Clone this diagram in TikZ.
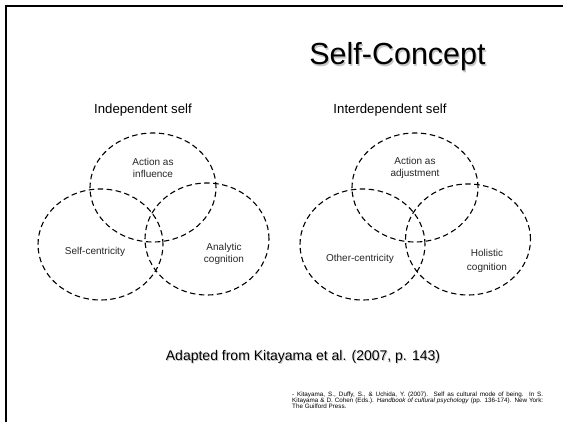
\documentclass[tikz,border=0pt]{standalone}
\usepackage{fontspec}
\setmainfont{Liberation Sans}
\usetikzlibrary{shapes.geometric}
\tikzset{
  venn/.style={ellipse, draw=black, line width=1.1pt, dash pattern=on 5.5pt off 3.5pt, inner sep=0pt, outer sep=0pt},
  lbl/.style={align=center, font=\fontsize{10}{12.5}\selectfont, text=black!85, inner sep=0pt},
  head/.style={font=\fontsize{13.2}{16}\selectfont, inner sep=0pt},
  shadowtxt/.style={text=black!22},
}
\begin{document}
\begin{tikzpicture}[x=1pt,y=-1pt]
\useasboundingbox (0,0) rectangle (563,422);
\fill[white] (0,0) rectangle (563,422);
% frame
\coordinate (fbl) at (6,422);
\coordinate (ftl) at (6,6);
\coordinate (ftr) at (563,6);
\draw[line width=2.6pt, line cap=rect] (fbl) -- (ftl) -- (ftr);
% title
\node[font=\fontsize{30.5}{34}\selectfont, inner sep=0pt, shadowtxt] (titleshadow) at (398.7,58.2) {Self-Concept};
\node[font=\fontsize{30.5}{34}\selectfont, inner sep=0pt] (title) at (397.5,57) {Self-Concept};
% headings
\node[head] (hind) at (143,110) {Independent self};
\node[head] (hint) at (390,110) {Interdependent self};
% left venn
\node[venn, minimum width=126pt, minimum height=109pt] (lt) at (153,187.5) {};
\node[venn, minimum width=125pt, minimum height=111pt] (ll) at (100.5,244.5) {};
\node[venn, minimum width=124pt, minimum height=112pt] (lr) at (207,239) {};
\node[lbl] (ltl) at (153,168) {Action as\\influence};
\node[lbl] (lll) at (95,252) {Self-centricity};
\node[lbl] (lrl) at (224,254) {Analytic\\cognition};
% right venn
\node[venn, minimum width=126pt, minimum height=109pt] (rt) at (415,187.5) {};
\node[venn, minimum width=125pt, minimum height=111pt] (rl) at (362.5,244.5) {};
\node[venn, minimum width=125pt, minimum height=111pt] (rr) at (468,239.5) {};
\node[lbl] (rtl) at (415,168) {Action as\\adjustment};
\node[lbl] (rll) at (360,259) {Other-centricity};
\node[lbl, font=\fontsize{10}{13.4}\selectfont] (rrl) at (487,261) {Holistic\\cognition};
% adapted
\node[font=\fontsize{14}{16}\selectfont, inner sep=0pt, shadowtxt] (adshadow) at (304,357.8) {Adapted from Kitayama et al. (2007, p. 143)};
\node[font=\fontsize{14}{16}\selectfont, inner sep=0pt] (adapted) at (303,357) {Adapted from Kitayama et al. (2007, p. 143)};
% reference
\node[anchor=north west, inner sep=0pt, text width=251pt, align=justify, font=\fontsize{6.3}{5.9}\selectfont] (ref) at (292,392)
{- Kitayama, S., Duffy, S., \& Uchida, Y. (2007). Self as cultural mode of being. In S.\linebreak Kitayama \& D. Cohen (Eds.). \textit{Handbook of cultural psychology} (pp. 136-174). New York:\linebreak The Guilford Press.\par};
\end{tikzpicture}
\end{document}
